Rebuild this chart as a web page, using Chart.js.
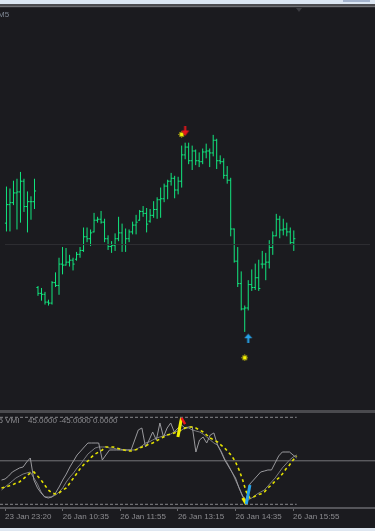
<!DOCTYPE html>
<html>
<head>
<meta charset="utf-8">
<title>M5 VMI</title>
<script src="https://cdn.jsdelivr.net/npm/chart.js@4.4.1/dist/chart.umd.min.js"></script>
<style>
  html, body { margin: 0; padding: 0; }
  body { width: 375px; height: 531px; position: relative; overflow: hidden; background: #1b1b1f; font-family: "Liberation Sans", Arial, sans-serif; }
  .strip { position: absolute; left: 0; width: 375px; }
  canvas { position: absolute; left: 0; display: block; }
  .label { position: absolute; font-size: 8px; line-height: 8px; white-space: pre; color: #8c8c90; }
</style>
</head>
<body>
<div class="strip" style="top:0;height:4px;background:#dce6f2"></div>
<div class="strip" style="top:0;left:343px;width:27px;height:2px;background:#a3b2cc"></div>
<div class="strip" style="top:4px;height:2px;background:#4c4c50"></div>
<div class="strip" style="top:6px;height:1px;background:#707074"></div>
<div class="strip" style="top:7px;height:1px;background:#2b2b2f"></div>
<canvas id="price" width="375" height="402" style="top:8px"></canvas>
<div style="position:absolute;left:296px;top:8px;width:0;height:0;border-left:3.5px solid transparent;border-right:3.5px solid transparent;border-top:4px solid #3a3a3f"></div>
<div class="label" style="left:-2px;top:10.5px;color:#7f8894">M5</div>
<div class="strip" style="top:410px;height:3px;background:#4a4a4e"></div>
<canvas id="vmi" width="375" height="115" style="top:413px"></canvas>
<div class="label" style="left:-1.5px;top:417px">5 VMI</div>
<div class="label" style="left:28px;top:417px">45.0000 -45.0000 0.0000</div>
<div class="strip" style="top:528px;height:3px;background:#dfe7f1"></div>

<script>
// price bars (M5), one entry per bar, in points
const barOpen = [176,195,197,207,208,219,193,198,198,110,104,103,95,94,115,112,134,133,136,138,
  139,144,148,162,160,167,179,180,177,160,152,153,160,166,154,160,167,174,179,188,
  186,178,184,190,200,201,214,219,222,210,219,246,254,240,250,240,239,249,250,248,
  261,240,239,225,220,170,137,114,88,89,113,110,120,134,134,136,151,163,180,169,
  170,167,156];
const barHigh = [213,211,219,221,228,221,208,203,221,111,109,105,97,116,125,140,151,150,143,140,
  146,151,171,171,169,186,182,188,180,163,157,165,182,175,170,169,177,184,189,193,
  191,190,198,202,212,216,220,227,224,223,255,258,258,255,251,248,252,257,252,266,
  262,245,242,234,222,170,151,126,91,117,128,134,138,147,145,158,167,185,183,180,
  176,171,168];
const barLow = [168,168,195,170,177,188,167,180,191,102,97,93,92,93,111,103,124,133,132,128,
  138,141,147,157,153,167,177,176,157,149,146,148,158,147,147,157,165,165,179,183,
  167,177,182,181,182,198,201,215,202,206,213,242,237,231,236,234,237,243,234,245,
  232,237,222,217,163,136,111,87,65,87,107,108,107,130,118,130,144,163,161,164,
  163,155,148];
const barClose = [195,197,207,208,219,193,198,198,209,104,103,95,94,115,112,134,133,136,138,134,
  144,148,162,160,166,179,180,177,160,152,153,160,166,154,160,167,174,177,188,186,
  175,184,190,200,201,214,219,222,210,219,246,254,240,250,240,239,249,250,248,261,
  240,239,225,220,170,137,114,88,89,113,110,120,109,134,136,151,163,180,169,170,
  167,156,160];
const bidLevel = 154;

// signal marks on the price panel
const starBars = [50, 68];
const starPrices = [267, 38];
const sellArrowBars = [51];
const sellArrowPrices = [270];
const buyArrowBars = [69];
const buyArrowPrices = [58];

// VMI window
const vmiMain = [-19.9,-18.8,-15.7,-11.6,-9.5,-7.4,-6.4,-1.2,2.9,-19.9,-28.1,-33.3,-37.4,-38.5,-37.4,-33.3,-27.1,-19.9,-13.7,-6.4,
  -0.2,6.0,10.1,14.3,18.4,18.4,18.4,18.4,0.8,6.0,11.2,11.2,11.2,11.2,11.2,11.2,11.2,21.5,31.9,33.9,
  14.3,21.5,29.8,21.5,39.1,24.6,33.9,39.1,29.8,33.9,37.0,33.9,35.0,35.0,9.1,21.5,24.6,18.4,26.7,28.8,
  16.3,9.1,0.8,-5.4,-11.6,-17.8,-28.1,-36.4,-40.6,-24.0,-19.9,-15.7,-11.6,-10.6,-9.5,-9.5,-2.3,5.0,9.1,9.1,
  9.1,6.0,2.9];
const vmiSlow = [-30.2,-27.1,-24.0,-20.9,-17.8,-15.7,-13.7,-12.6,-11.6,-17.8,-24.0,-32.3,-37.4,-37.4,-37.4,-35.4,-32.3,-28.1,-21.9,-16.8,
  -12.6,-7.4,-3.3,1.9,7.0,10.1,13.2,14.3,14.3,14.3,13.2,13.2,12.2,12.2,11.2,11.2,11.2,11.2,13.2,15.3,
  18.4,19.5,21.5,23.6,24.6,25.7,26.7,27.7,29.8,30.8,31.9,33.9,33.9,31.9,30.8,29.8,27.7,24.6,21.5,18.4,
  16.3,10.1,1.9,-4.3,-11.6,-19.9,-28.1,-37.4,-41.6,-39.5,-37.4,-34.3,-32.3,-30.2,-26.1,-21.9,-17.8,-12.6,-7.4,-3.3,
  0.8,3.9,6.0];
const vmiSignal = [-28.1,-27.1,-26.1,-25.0,-23.0,-21.9,-18.8,-15.7,-12.6,-11.6,-15.7,-19.9,-25.0,-30.2,-33.3,-34.3,-33.3,-30.2,-28.1,-23.0,
  -17.8,-12.6,-7.4,-3.3,-0.2,3.9,7.0,9.1,11.2,14.3,14.3,14.3,13.2,12.2,11.2,10.1,10.1,11.2,12.2,14.3,
  15.3,17.4,18.4,20.5,22.6,24.6,26.7,27.7,28.8,29.8,31.9,33.9,35.0,35.0,33.9,31.9,29.8,26.7,23.6,21.5,
  19.5,16.3,13.2,9.1,5.0,-1.2,-9.5,-19.9,-32.3,-38.5,-37.4,-35.4,-34.3,-32.3,-28.1,-25.0,-20.9,-17.8,-13.7,-8.5,
  -4.3,0.8,5.0];
const sellSpike = [[49, 24.6], [50, 44.3]];
const sellTip = [[50, 44.3], [51, 38.0]];
const buyDip = [[67, -38.5], [68, -44.7]];
const buySpike = [[68, -44.7], [69, -25.0]];
const vmiLevels = [45, -45, 0];

const timeTicks = [1, 17, 33, 49, 65, 81];
const timeLabels = ['23 Jan 23:20', '26 Jan 10:35', '26 Jan 11:55', '26 Jan 13:15', '26 Jan 14:35', '26 Jan 15:55'];

// view: 3.6px per bar, first bar 1.5px from the left edge
const xMin = -0.4167;
const xMax = 103.75;
const lastBar = barHigh.length - 1;
const barColor = '#12e67f';
const axisFont = { family: 'Liberation Sans', size: 8 };

function pts(arr) { return arr.map((v, i) => ({ x: i, y: v })); }
function pairs(arr) { return arr.map(p => ({ x: p[0], y: p[1] })); }

function makeIcon(w, h, draw) {
  const c = document.createElement('canvas');
  c.width = w; c.height = h;
  draw(c.getContext('2d'));
  return c;
}
const redArrow = makeIcon(9, 10, g => {
  g.fillStyle = '#e8161b';
  g.fillRect(3.5, 0, 2, 5);
  g.beginPath(); g.moveTo(0.5, 4); g.lineTo(8.5, 4); g.lineTo(4.5, 9.5); g.closePath(); g.fill();
});
const blueArrow = makeIcon(9, 10, g => {
  g.fillStyle = '#27a3ea';
  g.beginPath(); g.moveTo(4.5, 0.5); g.lineTo(8.5, 5); g.lineTo(0.5, 5); g.closePath(); g.fill();
  g.fillRect(3.5, 4, 2, 6);
});
const star = makeIcon(7, 7, g => {
  g.fillStyle = '#8a8612';
  g.fillRect(1, 1, 5, 5);
  g.fillRect(3, 0, 1, 7);
  g.fillRect(0, 3, 7, 1);
  g.fillStyle = '#f6f400';
  g.fillRect(2, 2, 3, 3);
});

// OHLC bars drawn through the chart scales
const ohlcBars = {
  id: 'ohlcBars',
  beforeDatasetsDraw(chart) {
    const { ctx, scales: { x, y } } = chart;
    ctx.save();
    ctx.strokeStyle = barColor;
    ctx.lineWidth = 1;
    ctx.beginPath();
    barHigh.forEach((h, i) => {
      const px = x.getPixelForValue(i);
      const yo = y.getPixelForValue(barOpen[i]);
      const yc = y.getPixelForValue(barClose[i]);
      ctx.moveTo(px, y.getPixelForValue(h) - 0.5);
      ctx.lineTo(px, y.getPixelForValue(barLow[i]) + 0.5);
      ctx.moveTo(px - 1.6, yo); ctx.lineTo(px, yo);
      ctx.moveTo(px, yc); ctx.lineTo(px + 1.6, yc);
    });
    ctx.stroke();
    ctx.restore();
  }
};

new Chart(document.getElementById('price'), {
  type: 'scatter',
  data: {
    datasets: [
      { data: sellArrowBars.map((b, k) => ({ x: b, y: sellArrowPrices[k] })), pointStyle: redArrow, pointRadius: 4 },
      { data: buyArrowBars.map((b, k) => ({ x: b, y: buyArrowPrices[k] })), pointStyle: blueArrow, pointRadius: 4 },
      { data: starBars.map((b, k) => ({ x: b, y: starPrices[k] })), pointStyle: star, pointRadius: 4 },
      { type: 'line', data: [{ x: xMin, y: bidLevel }, { x: xMax, y: bidLevel }], borderColor: '#2f2f34', borderWidth: 1, pointRadius: 0 }
    ]
  },
  options: {
    responsive: false,
    animation: false,
    events: [],
    layout: { padding: 0 },
    plugins: { legend: { display: false }, tooltip: { enabled: false } },
    scales: {
      x: { type: 'linear', display: false, min: xMin, max: xMax },
      y: { type: 'linear', display: false, min: -10.5, max: 391.5 }
    }
  },
  plugins: [ohlcBars]
});

function lineSet(data, color, width, dash) {
  return { data, borderColor: color, borderWidth: width, borderDash: dash || [], pointRadius: 0, tension: 0, fill: false };
}

new Chart(document.getElementById('vmi'), {
  type: 'line',
  data: {
    datasets: [
      lineSet(pairs(buySpike), '#27a3ea', 3),
      lineSet(pairs(buyDip), '#f2f000', 3),
      lineSet(pairs(sellTip), '#e8161b', 2.5),
      lineSet(pairs(sellSpike), '#f2f000', 3),
      lineSet(pts(vmiSignal), '#e4e200', 1.6, [3, 3]),
      lineSet(pts(vmiMain), '#9a9a9e', 1),
      lineSet(pts(vmiSlow), '#7c7c80', 1),
      lineSet([{ x: xMin, y: vmiLevels[0] }, { x: lastBar, y: vmiLevels[0] }], '#86868a', 1, [3, 2]),
      lineSet([{ x: xMin, y: vmiLevels[1] }, { x: lastBar, y: vmiLevels[1] }], '#86868a', 1, [3, 2]),
      lineSet([{ x: xMin, y: vmiLevels[2] }, { x: xMax, y: vmiLevels[2] }], '#76767a', 1)
    ]
  },
  options: {
    responsive: false,
    animation: false,
    events: [],
    layout: { padding: 0 },
    plugins: { legend: { display: false }, tooltip: { enabled: false } },
    scales: {
      x: {
        type: 'linear',
        min: xMin,
        max: xMax,
        afterBuildTicks: scale => { scale.ticks = timeTicks.map(v => ({ value: v })); },
        afterFit: scale => { scale.height = 20; },
        ticks: {
          autoSkip: false, maxRotation: 0, minRotation: 0, align: 'start', padding: 1,
          color: '#8c8c90', font: axisFont,
          callback: v => timeLabels[timeTicks.indexOf(v)] || ''
        },
        grid: { drawOnChartArea: false, drawTicks: true, tickLength: 3, color: '#6a6a6e' },
        border: { display: true, color: '#55555a', width: 2 }
      },
      y: { type: 'linear', display: false, min: -48.83, max: 49.45 }
    }
  }
});
</script>
</body>
</html>
